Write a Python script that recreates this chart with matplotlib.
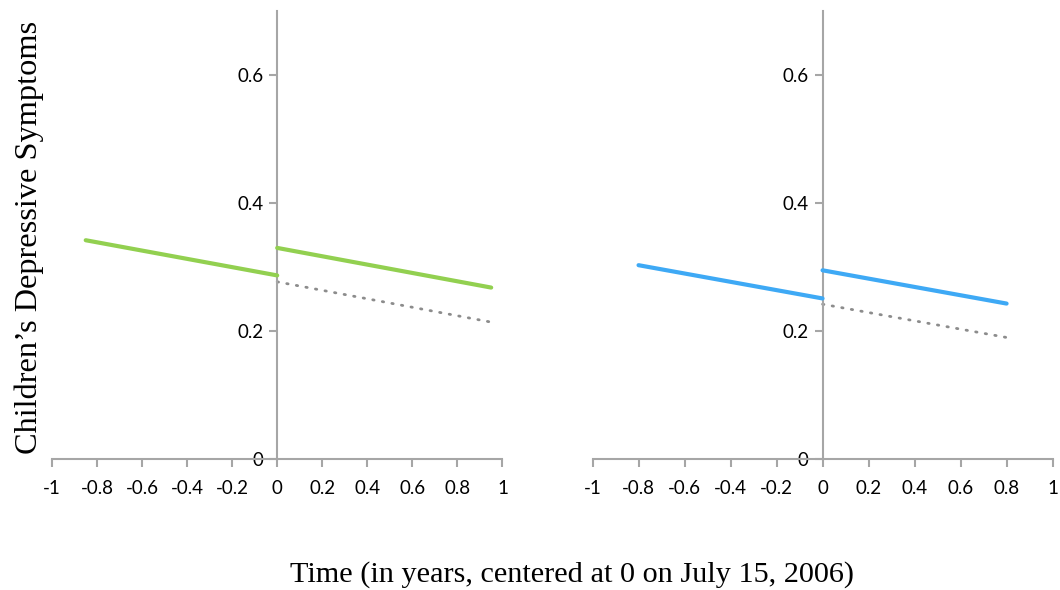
import matplotlib
matplotlib.use("Agg")
import matplotlib.pyplot as plt

# Fitted trajectories before and after time 0 for each group
left_pre_x = [-0.85, 0.0]
left_pre_y = [0.342, 0.287]
left_post_x = [0.0, 0.95]
left_post_y = [0.330, 0.268]
left_cf_x = [0.0, 0.95]
left_cf_y = [0.277, 0.214]

right_pre_x = [-0.80, 0.0]
right_pre_y = [0.303, 0.251]
right_post_x = [0.0, 0.80]
right_post_y = [0.295, 0.243]
right_cf_x = [0.0, 0.80]
right_cf_y = [0.242, 0.190]

x_ticks = [-1, -0.8, -0.6, -0.4, -0.2, 0, 0.2, 0.4, 0.6, 0.8, 1]
x_tick_labels = ["-1", "-0.8", "-0.6", "-0.4", "-0.2", "0", "0.2", "0.4", "0.6", "0.8", "1"]
y_ticks = [0, 0.2, 0.4, 0.6]
y_tick_labels = ["0", "0.2", "0.4", "0.6"]

GREEN = "#92d050"
BLUE = "#3ea9f5"
DOT = "#8c8c8c"
AXIS = "#a6a6a6"
TICK_FONT = "Lato"
TICK_SIZE = 13.5

fig = plt.figure(figsize=(10.6, 5.9), dpi=100)
ax_left = fig.add_axes([0.049, 0.222, 0.425, 0.759])
ax_right = fig.add_axes([0.559, 0.222, 0.434, 0.759])


def style_axes(ax):
    ax.set_xlim(-1, 1)
    ax.set_ylim(0, 0.7)
    ax.spines["top"].set_visible(False)
    ax.spines["right"].set_visible(False)
    ax.spines["left"].set_position(("data", 0))
    ax.spines["bottom"].set_position(("data", 0))
    for s in ("left", "bottom"):
        ax.spines[s].set_color(AXIS)
        ax.spines[s].set_linewidth(1.5)
    ax.set_xticks(x_ticks)
    ax.set_xticklabels(x_tick_labels, fontfamily=TICK_FONT, fontsize=TICK_SIZE)
    ax.set_yticks(y_ticks)
    ax.set_yticklabels(y_tick_labels, fontfamily=TICK_FONT, fontsize=TICK_SIZE)
    ax.tick_params(axis="both", color=AXIS, width=1.5, length=6, direction="out")
    ax.tick_params(axis="x", pad=9)
    ax.tick_params(axis="y", pad=4)
    ax.patch.set_alpha(0)


def draw_panel(ax, pre_x, pre_y, post_x, post_y, cf_x, cf_y, color):
    ax.plot(pre_x, pre_y, color=color, lw=3.0, solid_capstyle="round", zorder=3)
    ax.plot(post_x, post_y, color=color, lw=3.0, solid_capstyle="round", zorder=3)
    ax.plot(cf_x, cf_y, color=DOT, lw=2.0, linestyle=(0, (0.5, 3.0)),
            dash_capstyle="round", zorder=2)


style_axes(ax_left)
style_axes(ax_right)
draw_panel(ax_left, left_pre_x, left_pre_y, left_post_x, left_post_y,
           left_cf_x, left_cf_y, GREEN)
draw_panel(ax_right, right_pre_x, right_pre_y, right_post_x, right_post_y,
           right_cf_x, right_cf_y, BLUE)

fig.text(0.028, 0.598, "Children\u2019s Depressive Symptoms", rotation=90,
         ha="center", va="center", fontfamily="Liberation Serif", fontsize=23.3)
fig.text(0.54, 0.026, "Time (in years, centered at 0 on July 15, 2006)",
         ha="center", va="center", fontfamily="Liberation Serif", fontsize=21.8)

fig.savefig("out.png", dpi=100)
